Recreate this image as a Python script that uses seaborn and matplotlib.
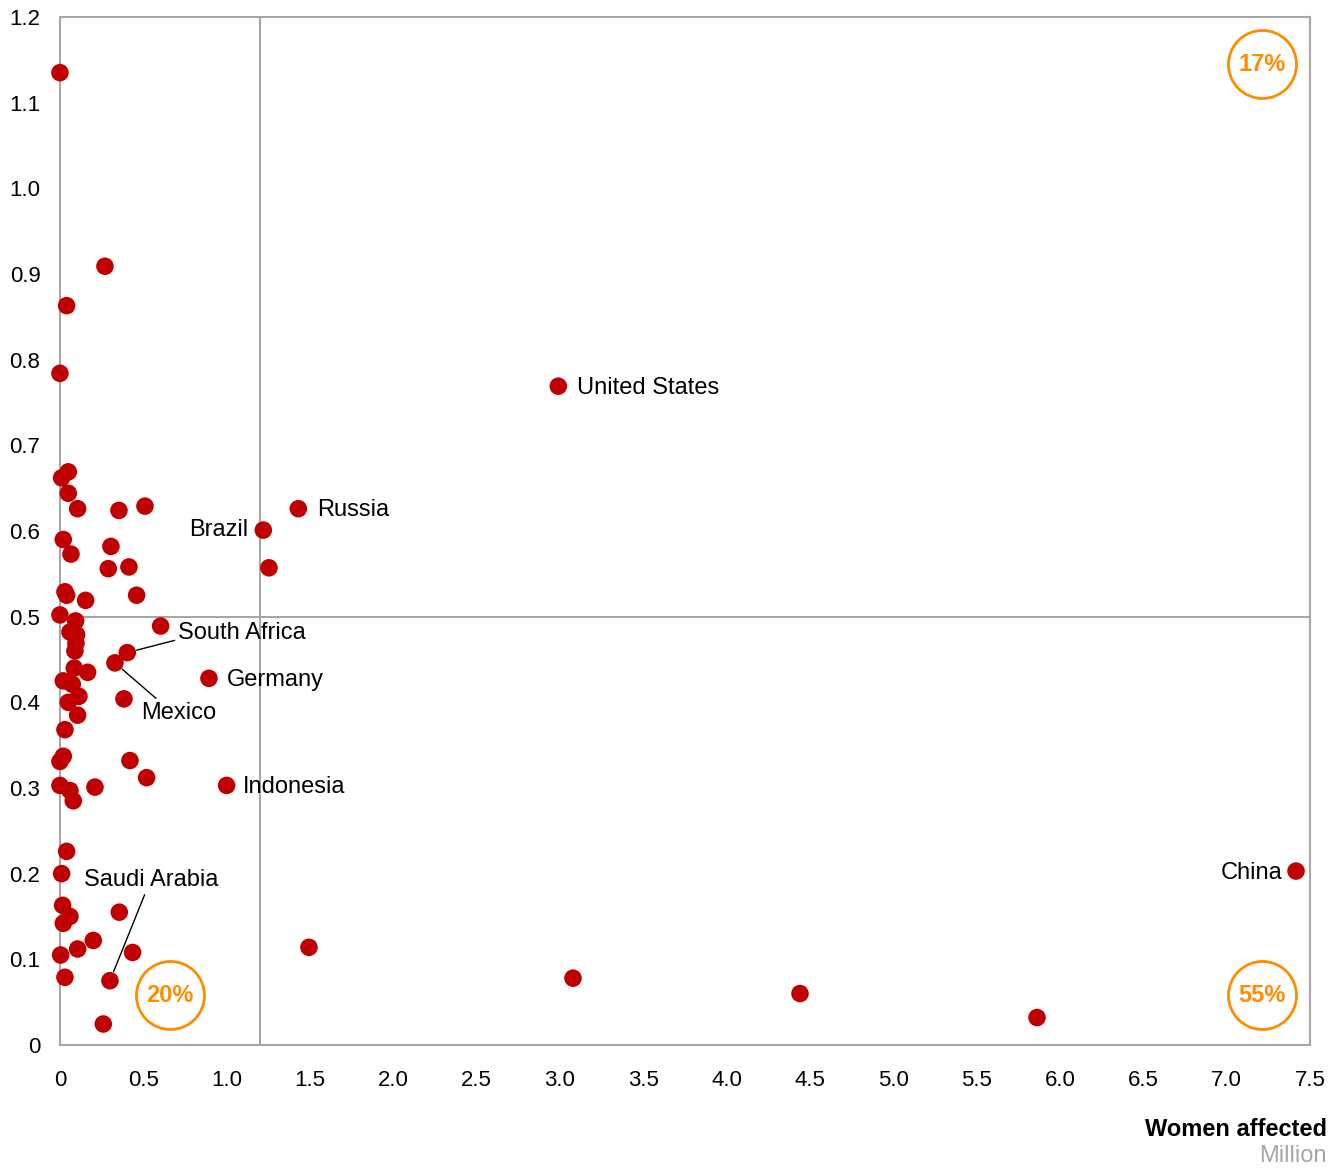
import numpy as np
import pandas as pd
import matplotlib
matplotlib.use("Agg")
import matplotlib.pyplot as plt
import seaborn as sns

# ── Data ──────────────────────────────────────────────────────────────────────
women_affected = [
    0.0, 0.27, 0.04, 0.0, 2.99, 0.05, 0.01, 0.05, 0.106, 0.354,
    0.51, 1.43, 1.22, 0.02, 0.306, 0.066, 0.29, 0.414, 1.254, 0.03,
    0.04, 0.46, 0.154, 0.0, 0.094, 0.604, 0.06, 0.10, 0.096, 0.09,
    0.404, 0.33, 0.086, 0.166, 0.894, 0.02, 0.074, 0.114, 0.05, 0.384,
    0.106, 0.03, 0.02, 0.0, 0.42, 0.52, 0.0, 0.06, 0.08, 0.21,
    1.0, 0.04, 0.01, 0.016, 0.06, 0.02, 0.356, 0.2, 0.106, 0.004,
    0.436, 0.03, 0.30, 0.26, 1.494, 3.078, 4.44, 5.862, 7.416,
]
share = [
    1.135, 0.909, 0.863, 0.784, 0.769, 0.669, 0.662, 0.644, 0.626, 0.624,
    0.629, 0.626, 0.601, 0.590, 0.582, 0.573, 0.556, 0.558, 0.557, 0.529,
    0.525, 0.525, 0.519, 0.502, 0.495, 0.489, 0.482, 0.479, 0.469, 0.460,
    0.458, 0.446, 0.440, 0.435, 0.428, 0.425, 0.421, 0.407, 0.400, 0.404,
    0.385, 0.368, 0.337, 0.331, 0.332, 0.312, 0.303, 0.297, 0.285, 0.301,
    0.303, 0.226, 0.200, 0.163, 0.150, 0.142, 0.155, 0.122, 0.112, 0.105,
    0.108, 0.079, 0.075, 0.0245, 0.114, 0.078, 0.060, 0.032, 0.203,
]
country = [""] * len(share)
country[4] = "United States"
country[11] = "Russia"
country[12] = "Brazil"
country[30] = "South Africa"
country[31] = "Mexico"
country[34] = "Germany"
country[50] = "Indonesia"
country[62] = "Saudi Arabia"
country[68] = "China"

# quadrant shares
quadrant_labels = ["17%", "20%", "55%"]
quadrant_x = [7.21, 0.66, 7.21]
quadrant_y = [1.145, 0.058, 0.058]

x_split = 1.2
y_split = 0.5

df = pd.DataFrame({"women": women_affected, "share": share, "country": country})

# ── Style ─────────────────────────────────────────────────────────────────────
sns.set_style("white")
plt.rcParams["font.family"] = ["Liberation Sans", "DejaVu Sans"]
plt.rcParams["text.color"] = "black"

RED = "#C00000"
ORANGE = "#FF8C00"
GREY = "#A6A6A6"

fig = plt.figure(figsize=(13.41, 11.69), dpi=100)
ax = fig.add_axes([0.0447, 0.1061, 0.9322, 0.8794])

ax.axvline(x_split, color=GREY, lw=1.5, zorder=1)
ax.axhline(y_split, color=GREY, lw=1.5, zorder=1)

sns.scatterplot(data=df, x="women", y="share", color=RED, s=160,
                edgecolor="none", ax=ax, zorder=3, clip_on=False)

ax.set_xlim(0, 7.5)
ax.set_ylim(0, 1.2)
xt = np.arange(0, 7.51, 0.5)
yt = np.arange(0, 1.21, 0.1)
ax.set_xticks(xt)
ax.set_yticks(yt)
ax.set_xticklabels(["0"] + [f"{v:.1f}" for v in xt[1:]])
ax.set_yticklabels(["0"] + [f"{v:.1f}" for v in yt[1:]])
ax.tick_params(axis="both", direction="in", length=8, width=1.5, color=GREY,
               labelsize=16, labelcolor="black")
ax.tick_params(axis="x", pad=18)
ax.tick_params(axis="y", pad=14)
for s in ax.spines.values():
    s.set_color(GREY)
    s.set_linewidth(1.5)
ax.set_xlabel("")
ax.set_ylabel("")

# ── Country labels ────────────────────────────────────────────────────────────
lab = df.set_index("country")
fs = 17


def put(name, dx, dy, ha="left", arrow_from=None):
    px, py = lab.loc[name, "women"], lab.loc[name, "share"]
    if arrow_from is None:
        ax.text(px + dx, py + dy, name, fontsize=fs, ha=ha, va="center", zorder=4)
    else:
        ax.annotate(name, xy=(px, py), xytext=(px + dx, py + dy), fontsize=fs,
                    ha=ha, va="center", zorder=4,
                    arrowprops=dict(arrowstyle="-", color="black", lw=1,
                                    shrinkA=0, shrinkB=7,
                                    relpos=arrow_from))


put("United States", 0.11, -0.002)
put("Russia", 0.11, -0.002)
put("Brazil", -0.09, 0.0, ha="right")
put("Germany", 0.11, -0.002)
put("Indonesia", 0.10, -0.002)
put("China", -0.08, -0.002, ha="right")
put("South Africa", 0.304, 0.023, arrow_from=(0.0, 0.2))
put("Mexico", 0.156, -0.058, arrow_from=(0.25, 1.0))
put("Saudi Arabia", -0.155, 0.117, arrow_from=(0.46, 0.0))

# ── Quadrant badges ───────────────────────────────────────────────────────────
for txt, qx, qy in zip(quadrant_labels, quadrant_x, quadrant_y):
    ax.scatter([qx], [qy], s=2400, facecolor="white", edgecolor=ORANGE,
               linewidth=2, zorder=5)
    ax.text(qx, qy, txt, color=ORANGE, fontsize=17, fontweight="bold",
            ha="center", va="center", zorder=6)

fig.text(1327 / 1341, 1 - 1130 / 1169, "Women affected", fontsize=17,
         fontweight="bold", ha="right", va="center")
fig.text(1327 / 1341, 1 - 1156 / 1169, "Million", fontsize=17,
         color=GREY, ha="right", va="center")

fig.savefig("out.png", dpi=100)
